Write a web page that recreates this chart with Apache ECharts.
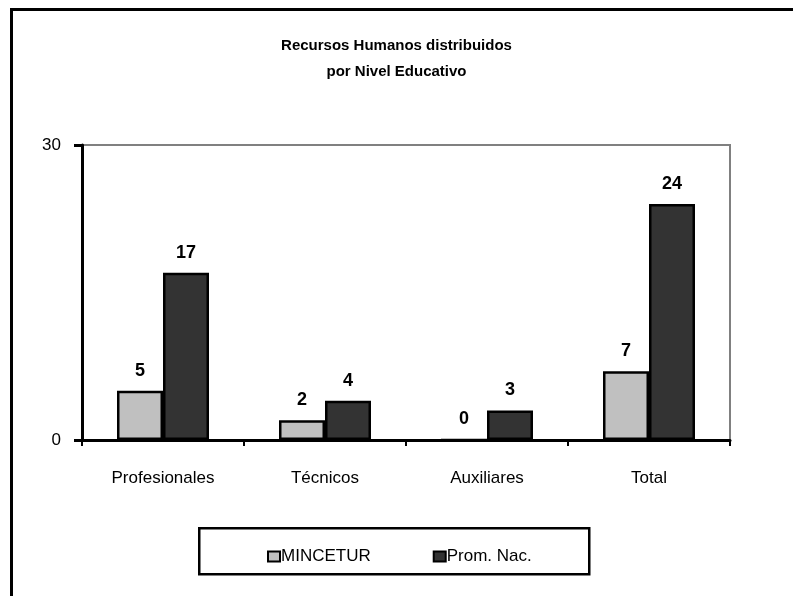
<!DOCTYPE html>
<html>
<head>
<meta charset="utf-8">
<script src="https://cdn.jsdelivr.net/npm/echarts@6/dist/echarts.min.js"></script>
<style>html,body{margin:0;padding:0;background:#fff}#c{width:793px;height:596px}</style>
</head>
<body>
<div id="c"></div>
<script>
var titleText = 'Recursos Humanos distribuidos\npor Nivel Educativo';
var categories = ['Profesionales', 'Técnicos', 'Auxiliares', 'Total'];
var seriesNames = ['MINCETUR', 'Prom. Nac.'];
var mincetur = [5, 2, 0, 7];
var promNac = [17, 4, 3, 24];
var yMin = 0, yMax = 30, yInterval = 30;

var font = "'Liberation Sans',Arial,sans-serif";
var chart = echarts.init(document.getElementById('c'), null, {renderer: 'canvas'});
var labelStyle = {show: true, position: 'top', distance: 11, fontFamily: font, fontWeight: 'bold', fontSize: 18, color: '#000'};
chart.setOption({
  animation: false,
  backgroundColor: '#fff',
  title: {
    text: titleText, left: 'center', top: 28,
    textStyle: {fontFamily: font, fontWeight: 'bold', fontSize: 15, color: '#000', lineHeight: 26}
  },
  graphic: [
    {type: 'rect', left: 9, top: 7, shape: {width: 820, height: 620}, style: {fill: 'none', stroke: '#000', lineWidth: 3}, z: -1},
    {type: 'rect', left: 198, top: 527, shape: {width: 390, height: 46}, style: {fill: '#fff', stroke: '#000', lineWidth: 2.5}, z: 0}
  ],
  legend: {
    left: 262, top: 543, itemGap: 62, itemWidth: 12, itemHeight: 10,
    icon: 'rect',
    textStyle: {fontFamily: font, fontSize: 17, color: '#000', padding: [0, 0, 0, -4]},
    data: seriesNames, z: 5
  },
  grid: {left: 82, right: 63, top: 145, bottom: 156, show: true, borderColor: '#808080', borderWidth: 2, backgroundColor: 'transparent'},
  xAxis: {
    type: 'category', data: categories,
    axisLine: {lineStyle: {color: '#000', width: 3}},
    axisTick: {show: true, length: 6, lineStyle: {color: '#000', width: 2}},
    axisLabel: {margin: 30, fontFamily: font, fontSize: 17, color: '#000'},
    z: 10
  },
  yAxis: {
    type: 'value', min: yMin, max: yMax, interval: yInterval,
    axisLine: {show: true, lineStyle: {color: '#000', width: 3}},
    axisTick: {show: true, length: 8, lineStyle: {color: '#000', width: 3}},
    splitLine: {show: false},
    axisLabel: {margin: 21, fontFamily: font, fontSize: 17, color: '#000'}
  },
  series: [
    {name: seriesNames[0], type: 'bar', data: mincetur, barWidth: 46, barGap: '0%',
     itemStyle: {color: '#C0C0C0', borderColor: '#000', borderWidth: 2.5}, label: labelStyle},
    {name: seriesNames[1], type: 'bar', data: promNac, barWidth: 46, barGap: '0%',
     itemStyle: {color: '#333333', borderColor: '#000', borderWidth: 2.5}, label: labelStyle}
  ]
});
</script>
</body>
</html>
